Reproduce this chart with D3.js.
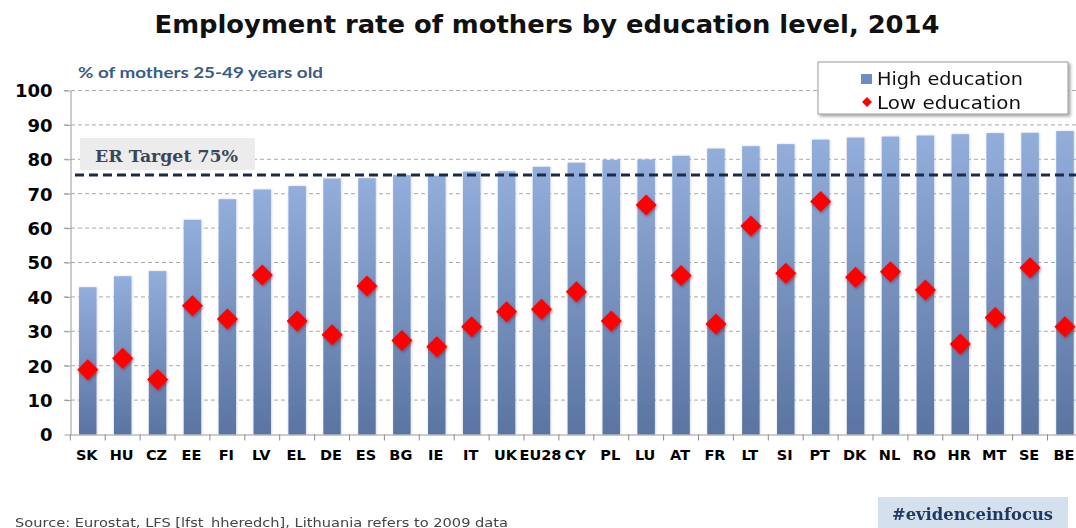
<!DOCTYPE html>
<html>
<head>
<meta charset="utf-8">
<script src="https://cdn.jsdelivr.net/npm/d3@7/dist/d3.min.js"></script>
<style>
  html, body { margin: 0; padding: 0; background: #fff; }
  svg { display: block; }
</style>
</head>
<body>
<svg id="chart" width="1076" height="528"></svg>
<script>
const categories = ["SK","HU","CZ","EE","FI","LV","EL","DE","ES","BG","IE","IT","UK","EU28","CY","PL","LU","AT","FR","LT","SI","PT","DK","NL","RO","HR","MT","SE","BE"];
const highEducation = [42.8,46.0,47.5,62.4,68.4,71.2,72.2,74.4,74.5,75.4,75.2,76.4,76.5,77.8,79.0,79.8,79.9,81.0,83.1,83.8,84.4,85.7,86.3,86.6,86.9,87.3,87.6,87.7,88.2];
const lowEducation = [18.8,22.2,16.0,37.4,33.6,46.4,33.0,29.0,43.2,27.3,25.5,31.3,35.7,36.4,41.5,33.0,66.7,46.2,32.1,60.6,46.9,67.7,45.7,47.3,42.0,26.3,34.0,48.5,31.3];
const yTickValues = [0,10,20,30,40,50,60,70,80,90,100];
const targetValue = 75;
const seriesNames = ["High education","Low education"];

const svg = d3.select("#chart");
const W = 1076, H = 528;
svg.append("rect").attr("width", W).attr("height", H).attr("fill", "#fff");

const defs = svg.append("defs");
const grad = defs.append("linearGradient").attr("id","barGrad").attr("x1",0).attr("y1",0).attr("x2",0).attr("y2",1);
grad.append("stop").attr("offset","0%").attr("stop-color","#94aedc");
grad.append("stop").attr("offset","100%").attr("stop-color","#5a74a2");
const f1 = defs.append("filter").attr("id","dshadow").attr("x","-50%").attr("y","-50%").attr("width","200%").attr("height","200%");
f1.append("feDropShadow").attr("dx",1).attr("dy",1.5).attr("stdDeviation",1.5).attr("flood-color","#700").attr("flood-opacity",0.45);
const f2 = defs.append("filter").attr("id","bshadow").attr("x","-20%").attr("y","-20%").attr("width","140%").attr("height","140%");
f2.append("feDropShadow").attr("dx",2).attr("dy",2).attr("stdDeviation",1.5).attr("flood-color","#000").attr("flood-opacity",0.35);
const f3 = defs.append("filter").attr("id","barshadow").attr("x","-30%").attr("y","-5%").attr("width","160%").attr("height","110%");
f3.append("feDropShadow").attr("dx",0.5).attr("dy",0).attr("stdDeviation",1.2).attr("flood-color","#8da0c4").attr("flood-opacity",0.5);

const x = d3.scaleBand().domain(categories).range([70.3, 1082.4]).paddingInner(0.5).paddingOuter(0.25);
const y = d3.scaleLinear().domain([0,100]).range([434.5, 90.5]);

// Title
svg.append("text").attr("x", 547).attr("y", 33).attr("text-anchor","middle")
  .attr("font-family","DejaVu Sans, Verdana, sans-serif").attr("font-weight","bold").attr("font-size",24)
  .attr("textLength",785).attr("lengthAdjust","spacingAndGlyphs").attr("fill","#111")
  .text("Employment rate of mothers by education level, 2014");

// Subtitle
svg.append("text").attr("x", 78).attr("y", 78)
  .attr("font-family","Lato, 'Open Sans', sans-serif").attr("font-weight","bold").attr("font-size",15.5)
  .attr("textLength",245).attr("lengthAdjust","spacingAndGlyphs").attr("fill","#3b5a8c")
  .text("% of mothers 25-49 years old");

// Gridlines
const plotRight = 1076;
svg.append("g").selectAll("line").data(yTickValues.filter(d => d > 0)).join("line")
  .attr("x1", 64).attr("x2", plotRight).attr("y1", d => y(d)).attr("y2", d => y(d))
  .attr("stroke","#a9a9a9").attr("stroke-width",1).attr("stroke-dasharray","4,3");

// Y axis
const yAxis = d3.axisLeft(y).tickValues(yTickValues).tickSize(6).tickPadding(12).tickSizeOuter(0);
const gy = svg.append("g").attr("transform","translate(70.5,0)").call(yAxis);
gy.select(".domain").attr("stroke","#9a9a9a");
gy.selectAll(".tick line").attr("stroke","#9a9a9a");
gy.selectAll(".tick text").attr("font-family","DejaVu Sans, Verdana, sans-serif").attr("font-weight","bold")
  .attr("font-size",18).attr("fill","#000").attr("x",-18).attr("dy","0.36em");

// Bars
svg.append("g").attr("filter","url(#barshadow)").selectAll("rect").data(categories).join("rect")
  .attr("x", d => x(d)).attr("width", x.bandwidth())
  .attr("y", (d,i) => y(highEducation[i])).attr("height", (d,i) => y(0) - y(highEducation[i]))
  .attr("fill","url(#barGrad)");

// X axis
const xAxis = d3.axisBottom(x).tickSize(0).tickSizeOuter(0).tickPadding(15);
const gx = svg.append("g").attr("transform",`translate(0,${y(0)})`).call(xAxis);
gx.select(".domain").attr("stroke","#9a9a9a").attr("stroke-width",1.2);
gx.selectAll(".tick text")
  .attr("font-family","DejaVu Sans, Verdana, sans-serif").attr("font-weight","bold").attr("font-size",14.5)
  .attr("fill","#000").attr("text-anchor","middle").attr("dx",-1);
// boundary ticks
const step = x.step();
const bounds = categories.map(c => x(c) - (step - x.bandwidth())/2);
svg.append("g").selectAll("line").data(bounds).join("line")
  .attr("x1", d => d).attr("x2", d => d).attr("y1", y(0)).attr("y2", y(0)+6)
  .attr("stroke","#8a8a8a").attr("stroke-width",1);

// Target box
svg.append("rect").attr("x",80).attr("y",138).attr("width",175).attr("height",32).attr("fill","#ececec");
svg.append("text").attr("x",95).attr("y",162)
  .attr("font-family","'DejaVu Serif', 'Liberation Serif', serif").attr("font-weight","bold").attr("font-size",16)
  .attr("textLength",143).attr("lengthAdjust","spacingAndGlyphs").attr("fill","#3b4657")
  .text("ER Target 75%");

// Target line
svg.append("line").attr("x1",75).attr("x2",plotRight).attr("y1",y(targetValue)-1.5).attr("y2",y(targetValue)-1.5)
  .attr("stroke","#1c2a45").attr("stroke-width",3).attr("stroke-dasharray","9,5");

// Diamonds
const r = 10.5;
const diamond = `M0,${-r}L${r},0L0,${r}L${-r},0Z`;
svg.append("g").attr("filter","url(#dshadow)").selectAll("path").data(categories).join("path")
  .attr("d", diamond)
  .attr("transform", (d,i) => `translate(${x(d)+x.bandwidth()/2},${y(lowEducation[i])})`)
  .attr("fill","#ff0000");

// Legend
const lg = svg.append("g");
lg.append("rect").attr("x",818).attr("y",62).attr("width",250).attr("height",52)
  .attr("fill","#fff").attr("stroke","#9a9a9a").attr("filter","url(#bshadow)");
lg.append("rect").attr("x",861).attr("y",74).attr("width",11).attr("height",10).attr("fill","#6f8cc0");
lg.append("path").attr("d","M0,-5L5,0L0,5L-5,0Z").attr("transform","translate(867,102)").attr("fill","#ff0000");
lg.selectAll("text.lt").data(seriesNames).join("text").attr("class","lt")
  .attr("x",877).attr("y",(d,i) => 85 + i*23.5)
  .attr("font-family","DejaVu Sans, Verdana, sans-serif").attr("font-size",18).attr("fill","#111")
  .attr("textLength",(d,i) => i===0 ? 146 : 144).attr("lengthAdjust","spacingAndGlyphs")
  .text(d => d);

// Source
svg.append("text").attr("x",15).attr("y",526.5)
  .attr("font-family","DejaVu Sans, Verdana, sans-serif").attr("font-size",12.5).attr("fill","#444")
  .attr("textLength",493).attr("lengthAdjust","spacingAndGlyphs")
  .text("Source: Eurostat, LFS [lfst_hheredch], Lithuania refers to 2009 data");

// Hashtag box
svg.append("rect").attr("x",878).attr("y",497).attr("width",190).attr("height",31).attr("fill","#d5e0ee");
svg.append("text").attr("x",892).attr("y",520)
  .attr("font-family","'DejaVu Serif', 'Liberation Serif', serif").attr("font-weight","bold").attr("font-size",16)
  .attr("textLength",161).attr("lengthAdjust","spacingAndGlyphs").attr("fill","#1f3a60")
  .text("#evidenceinfocus");
</script>
</body>
</html>
